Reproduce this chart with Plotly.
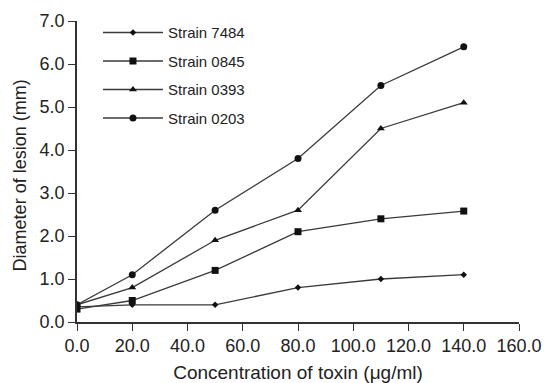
import plotly.graph_objects as go

concentration = [0, 20, 50, 80, 110, 140]
strain_7484 = [0.35, 0.4, 0.4, 0.8, 1.0, 1.1]
strain_0845 = [0.3, 0.5, 1.2, 2.1, 2.4, 2.58]
strain_0393 = [0.4, 0.8, 1.9, 2.6, 4.5, 5.1]
strain_0203 = [0.4, 1.1, 2.6, 3.8, 5.5, 6.4]

series = [
    ("Strain 7484", strain_7484, "diamond", 5),
    ("Strain 0845", strain_0845, "square", 7),
    ("Strain 0393", strain_0393, "triangle-up", 7),
    ("Strain 0203", strain_0203, "circle", 7),
]

fig = go.Figure()
for i, (name, vals, sym, sz) in enumerate(series):
    fig.add_trace(go.Scatter(
        x=concentration, y=vals, name=name, mode="lines+markers",
        line=dict(color="#3a3a3a", width=1.3),
        marker=dict(symbol=sym, size=sz, color="#111111"),
        legendgroup=str(i),
    ))

font = "Arial, Liberation Sans, sans-serif"
fig.update_layout(
    width=543, height=375,
    margin=dict(l=69, r=32, t=12.5, b=60.5, autoexpand=False),
    paper_bgcolor="white", plot_bgcolor="white",
    font=dict(family=font, color="#222222", size=18),
    showlegend=True,
    legend=dict(xref="container", yref="container", x=0.1657, y=0.978,
                xanchor="left", yanchor="top",
                font=dict(size=15, family=font, color="#222222"),
                tracegroupgap=6, itemwidth=60, bgcolor="rgba(0,0,0,0)"),
    xaxis=dict(range=[0, 160], tickvals=[0, 20, 40, 60, 80, 100, 120, 140, 160],
               ticktext=["0.0", "20.0", "40.0", "60.0", "80.0", "100.0", "120.0", "140.0", "160.0"],
               showline=True, linecolor="#333333", linewidth=1.6,
               ticks="outside", ticklen=7, tickcolor="#333333", tickwidth=1.4,
               showgrid=False, zeroline=False, automargin=True,
               title=dict(text="Concentration of toxin (μg/ml)", font=dict(size=19), standoff=11),
               tickfont=dict(size=18)),
    yaxis=dict(range=[0, 7], tickvals=[0, 1, 2, 3, 4, 5, 6, 7],
               ticktext=["0.0", "1.0", "2.0", "3.0", "4.0", "5.0", "6.0", "7.0"],
               showline=True, linecolor="#333333", linewidth=1.6,
               ticks="outside", ticklen=7, tickcolor="#333333", tickwidth=1.4,
               showgrid=False, zeroline=False, automargin=False,
               tickfont=dict(size=18)),
    annotations=[dict(text="Diameter of lesion (mm)", textangle=-90,
                      xref="paper", yref="paper", x=-0.129, y=0.487,
                      xanchor="center", yanchor="middle", showarrow=False,
                      font=dict(size=18, family=font, color="#222222"))],
)

fig.write_html("out.html")
